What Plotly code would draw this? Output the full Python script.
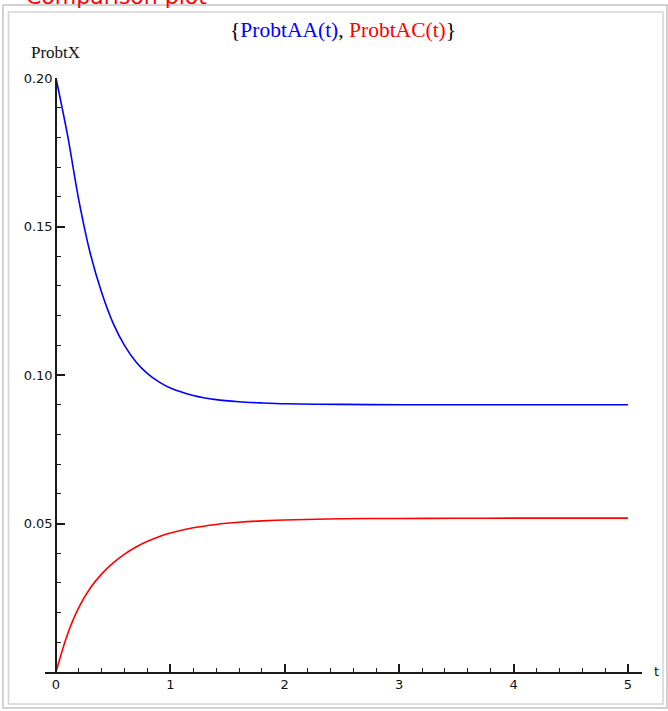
import plotly.graph_objects as go

# --- data ---
t_aa = [0, 0.1, 0.2, 0.3, 0.4, 0.5, 0.6, 0.7, 0.8, 0.9, 1.0, 1.2, 1.4, 1.6, 1.8, 2.0, 2.5, 3.0, 3.5, 4.0, 4.5, 5.0]
probt_aa = [0.2000, 0.1810, 0.1588, 0.1409, 0.1277, 0.1174, 0.1099, 0.1044, 0.1005, 0.0977,
            0.0956, 0.0931, 0.0917, 0.0910, 0.0906, 0.0903, 0.0901, 0.0900, 0.0900, 0.0900,
            0.0900, 0.0900]
t_ac = [0, 0.1, 0.2, 0.3, 0.4, 0.5, 0.6, 0.7, 0.8, 0.9, 1.0, 1.2, 1.4, 1.6, 1.8, 2.0, 2.5, 3.0, 3.5, 4.0, 4.5, 5.0]
probt_ac = [0.0, 0.01265, 0.02177, 0.02829, 0.03303, 0.03674, 0.03971, 0.04210, 0.04401, 0.04555,
            0.04679, 0.04857, 0.04969, 0.05041, 0.05089, 0.0512, 0.05159, 0.0517, 0.05175, 0.0518,
            0.0518, 0.0518]
x_ticks = [0, 1, 2, 3, 4, 5]
y_ticks = [0.05, 0.10, 0.15, 0.20]
y_ticktext = ["0.05", "0.10", "0.15", "0.20"]

W, H = 668, 711
ML, MR, MT, MB = 45, 26, 78, 39
PW = W - ML - MR
PH = H - MT - MB

def px(x):
    return (x - ML) / PW

def py(y):
    return (H - MB - y) / PH

fig = go.Figure()
fig.add_trace(go.Scatter(x=t_aa, y=probt_aa, mode="lines",
                         line=dict(color="#0000ff", width=1.6, shape="spline", smoothing=0.8),
                         showlegend=False, cliponaxis=False))
fig.add_trace(go.Scatter(x=t_ac, y=probt_ac, mode="lines",
                         line=dict(color="#ff0000", width=1.6, shape="spline", smoothing=0.8),
                         showlegend=False, cliponaxis=False))

axis_font = dict(family="DejaVu Sans", size=13, color="#111111")
fig.update_layout(
    width=W, height=H,
    margin=dict(l=ML, r=MR, t=MT, b=MB, pad=0),
    paper_bgcolor="white", plot_bgcolor="white",
    xaxis=dict(range=[-0.096, 5.123], domain=[0, 1], showgrid=False, zeroline=False,
               showline=True, linecolor="#1a1a1a", linewidth=1.6,
               tickvals=x_ticks, ticks="inside", ticklen=8, tickwidth=1.5, tickcolor="#1a1a1a",
               tickfont=axis_font,
               minor=dict(dtick=0.2, tick0=0, ticks="inside", ticklen=4, tickwidth=1.3, tickcolor="#1a1a1a")),
    yaxis=dict(range=[0, 0.2], showgrid=False, zeroline=False,
               anchor="free", position=11 / PW,
               showline=True, linecolor="#1a1a1a", linewidth=1.6,
               tickvals=y_ticks, ticktext=y_ticktext, ticks="inside", ticklen=8, tickwidth=1.5,
               tickcolor="#1a1a1a", tickfont=axis_font,
               minor=dict(dtick=0.01, tick0=0, ticks="inside", ticklen=4, tickwidth=1.3, tickcolor="#1a1a1a")),
)

# frame (double grey border)
fig.add_shape(type="rect", xref="paper", yref="paper", x0=px(3), x1=px(667), y0=py(708), y1=py(5),
              line=dict(color="#c4c4c4", width=1.5), layer="below")
fig.add_shape(type="rect", xref="paper", yref="paper", x0=px(8.5), x1=px(663), y0=py(704), y1=py(12),
              line=dict(color="#d4d4d4", width=1.5), layer="below")

title = ('<span style="color:#000000">{</span><span style="color:#0000ff">ProbtAA(t)</span>'
         '<span style="color:#000000">, </span><span style="color:#ff0000">ProbtAC(t)</span>'
         '<span style="color:#000000">}</span>')
fig.add_annotation(text=title, xref="paper", yref="paper", x=px(343), y=py(30),
                   xanchor="center", yanchor="middle", showarrow=False,
                   font=dict(family="Liberation Serif", size=21.5, color="black"))
fig.add_annotation(text="ProbtX", xref="paper", yref="paper", x=px(55), y=py(52),
                   xanchor="center", yanchor="middle", showarrow=False,
                   font=dict(family="Liberation Serif", size=17, color="#111111"))
fig.add_annotation(text="t", xref="paper", yref="paper", x=px(656), y=py(671),
                   xanchor="center", yanchor="middle", showarrow=False,
                   font=dict(family="DejaVu Sans", size=13, color="#111111"))
fig.add_annotation(text="Comparison plot", xref="paper", yref="paper", x=px(25), y=py(10),
                   xanchor="left", yanchor="bottom", showarrow=False, borderpad=0,
                   font=dict(family="DejaVu Sans", size=22, color="#ff0000"))

fig.write_html("out.html", config={"displayModeBar": False},
               post_script="document.body.style.margin='0';")
